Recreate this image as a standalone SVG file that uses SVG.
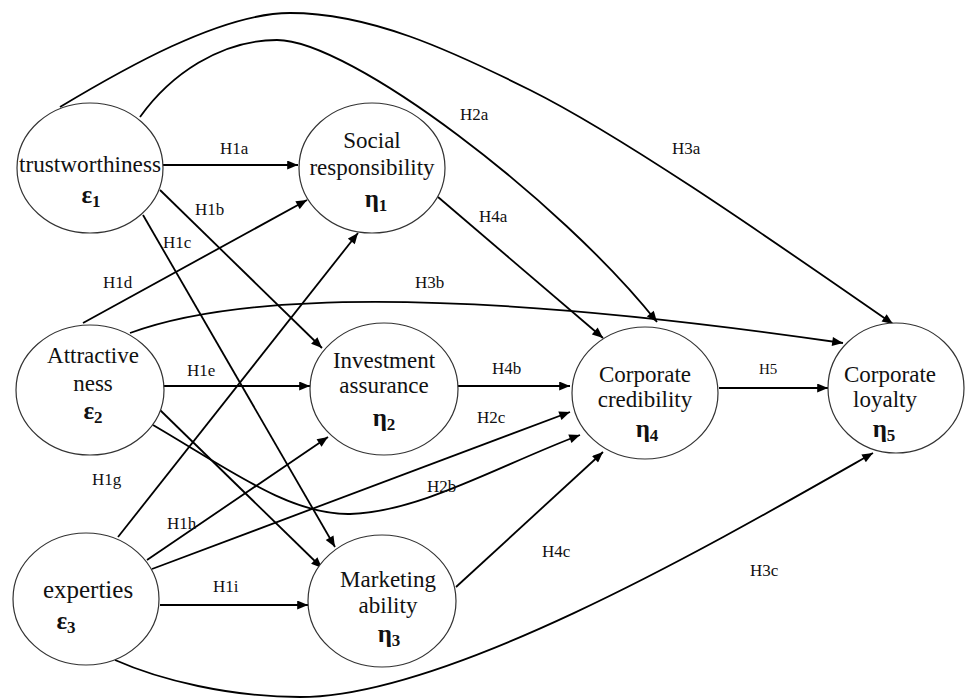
<svg xmlns="http://www.w3.org/2000/svg" width="965" height="699" viewBox="0 0 965 699">
<style>
.node ellipse{fill:#fff;stroke:#333;stroke-width:1.2}
.t{font-family:"Liberation Serif","Times New Roman",serif;font-size:23px;fill:#111;text-anchor:middle}
.g{font-family:"Liberation Serif","Times New Roman",serif;font-size:25px;font-weight:bold;fill:#111;text-anchor:middle}
.sub{font-size:17px}
.lbl{font-family:"Liberation Serif","Times New Roman",serif;font-size:17px;fill:#111}
#connectors path{fill:none;stroke:#000;stroke-width:1.8;marker-end:url(#arr)}
</style>
<defs>
<marker id="arr" markerUnits="userSpaceOnUse" viewBox="0 0 12 10" refX="12" refY="5" markerWidth="12" markerHeight="9" orient="auto">
<path d="M0,0 L12,5 L0,10 Z" fill="#000"/>
</marker>
</defs>
<rect width="965" height="699" fill="#fff"/>
<g id="connectors">
<path id="e-H1a" d="M163,165 L298,165"/>
<path id="e-H1b" d="M160,190 L322,348"/>
<path id="e-H1c" d="M143,215 L335,547"/>
<path id="e-H1d" d="M83,323 L307,200"/>
<path id="e-H1e" d="M163,386 L310,386"/>
<path id="e-H1f" d="M160,410 L322,568"/>
<path id="e-H1g" d="M118,537 L358,233"/>
<path id="e-H1h" d="M147,560 L328,437"/>
<path id="e-H1i" d="M160,605 L308,605"/>
<path id="e-H2a" d="M140,117 C170,75 220,40 277,40 C350,40 560,200 657,322"/>
<path id="e-H2b" d="M153,425 C230,470 290,515 350,514 C420,512 500,465 580,435"/>
<path id="e-H2c" d="M152,569 L570,412"/>
<path id="e-H3a" d="M60,107 C120,71 220,13 290,13 C370,13 450,50 530,90 C630,140 793,255 893,324"/>
<path id="e-H3b" d="M130,333 Q313,266 843,343"/>
<path id="e-H3c" d="M115,660 C160,680 230,697 300,697 C450,697 720,540 873,453"/>
<path id="e-H4a" d="M438,197 L603,338"/>
<path id="e-H4b" d="M458,386 L570,386"/>
<path id="e-H4c" d="M456,587 L603,452"/>
<path id="e-H5" d="M719,388 L828,388"/>
</g>
<g id="n-trust" class="node">
<ellipse cx="90" cy="168" rx="73" ry="65"/>
<text class="t" x="90" y="172" textLength="142" lengthAdjust="spacingAndGlyphs">trustworthiness</text>
<text class="g" x="91" y="203">ε<tspan class="sub" dy="4">1</tspan></text>
</g>
<g id="n-social" class="node">
<ellipse cx="372" cy="168" rx="73" ry="65"/>
<text class="t" x="372" y="148">Social</text>
<text class="t" x="372" y="175">responsibility</text>
<text class="g" x="376" y="207">η<tspan class="sub" dy="4">1</tspan></text>
</g>
<g id="n-attract" class="node">
<ellipse cx="90" cy="390" rx="74" ry="65"/>
<text class="t" x="93" y="363">Attractive</text>
<text class="t" x="93" y="391">ness</text>
<text class="g" x="93" y="419">ε<tspan class="sub" dy="4">2</tspan></text>
</g>
<g id="n-invest" class="node">
<ellipse cx="384" cy="389" rx="74" ry="66"/>
<text class="t" x="384" y="368">Investment</text>
<text class="t" x="384" y="393">assurance</text>
<text class="g" x="384" y="426">η<tspan class="sub" dy="4">2</tspan></text>
</g>
<g id="n-market" class="node">
<ellipse cx="382" cy="601" rx="74" ry="66"/>
<text class="t" x="388" y="587">Marketing</text>
<text class="t" x="388" y="613">ability</text>
<text class="g" x="389" y="642">η<tspan class="sub" dy="4">3</tspan></text>
</g>
<g id="n-cred" class="node">
<ellipse cx="645" cy="393" rx="73" ry="66"/>
<text class="t" x="645" y="382">Corporate</text>
<text class="t" x="645" y="407">credibility</text>
<text class="g" x="647" y="437">η<tspan class="sub" dy="4">4</tspan></text>
</g>
<g id="n-loyal" class="node">
<ellipse cx="896" cy="388" rx="68" ry="65"/>
<text class="t" x="890" y="382">Corporate</text>
<text class="t" x="885" y="407">loyalty</text>
<text class="g" x="884" y="437">η<tspan class="sub" dy="4">5</tspan></text>
</g>
<g id="n-expert" class="node">
<ellipse cx="86" cy="599" rx="73" ry="66"/>
<text class="t" x="88" y="598" style="font-size:25px">experties</text>
<text class="g" x="66" y="629">ε<tspan class="sub" dy="4">3</tspan></text>
</g>
<g id="labels">
<text class="lbl" x="220" y="154">H1a</text>
<text class="lbl" x="195" y="215">H1b</text>
<text class="lbl" x="163" y="248">H1c</text>
<text class="lbl" x="103" y="288">H1d</text>
<text class="lbl" x="187" y="376">H1e</text>
<text class="lbl" x="92" y="485">H1g</text>
<text class="lbl" x="167" y="529">H1h</text>
<text class="lbl" x="213" y="592">H1i</text>
<text class="lbl" x="460" y="120">H2a</text>
<text class="lbl" x="672" y="154">H3a</text>
<text class="lbl" x="479" y="222">H4a</text>
<text class="lbl" x="415" y="288">H3b</text>
<text class="lbl" x="492" y="374">H4b</text>
<text class="lbl" x="477" y="423">H2c</text>
<text class="lbl" x="427" y="492">H2b</text>
<text class="lbl" x="542" y="557">H4c</text>
<text class="lbl" x="750" y="576">H3c</text>
<text class="lbl" x="759" y="374" style="font-size:15px">H5</text>
</g>
</svg>
